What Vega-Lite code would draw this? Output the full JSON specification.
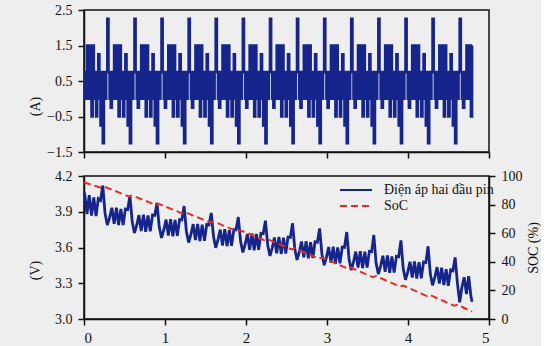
{
"$schema": "https://vega.github.io/schema/vega-lite/v6.json",
"padding": {"left": 27, "top": 2, "right": 0, "bottom": 0},
"background": "#eeeeee",
"spacing": 24,
"bounds": "flush",
"datasets": {
"cur": [
{"t":0,"a":0},
{"t":0.009,"a":0.75},{"t":0.023,"a":0},{"t":0.037,"a":1.5},{"t":0.051,"a":0},{"t":0.065,"a":0.75},{"t":0.079,"a":1.5},{"t":0.093,"a":-0.5},{"t":0.107,"a":1.5},{"t":0.121,"a":0},{"t":0.135,"a":0.75},{"t":0.149,"a":-0.5},{"t":0.163,"a":0.75},{"t":0.176,"a":1.25},{"t":0.190,"a":0},{"t":0.204,"a":-0.75},{"t":0.218,"a":0.75},{"t":0.232,"a":-1.25},{"t":0.246,"a":0.75},{"t":0.260,"a":0},{"t":0.274,"a":0.75},{"t":0.288,"a":2.25},{"t":0.302,"a":0.75},{"t":0.316,"a":0},{"t":0.330,"a":-0.25},
{"t":0.344,"a":0.75},{"t":0.358,"a":0},{"t":0.372,"a":1.5},{"t":0.386,"a":0},{"t":0.400,"a":0.75},{"t":0.414,"a":1.5},{"t":0.427,"a":-0.5},{"t":0.441,"a":1.5},{"t":0.455,"a":0},{"t":0.469,"a":0.75},{"t":0.483,"a":-0.5},{"t":0.497,"a":0.75},{"t":0.511,"a":1.25},{"t":0.525,"a":0},{"t":0.539,"a":-0.75},{"t":0.553,"a":0.75},{"t":0.567,"a":-1.25},{"t":0.581,"a":0.75},{"t":0.595,"a":0},{"t":0.609,"a":0.75},{"t":0.623,"a":2.25},{"t":0.637,"a":0.75},{"t":0.651,"a":0},{"t":0.664,"a":-0.25},
{"t":0.678,"a":0.75},{"t":0.692,"a":0},{"t":0.706,"a":1.5},{"t":0.720,"a":0},{"t":0.734,"a":0.75},{"t":0.748,"a":1.5},{"t":0.762,"a":-0.5},{"t":0.776,"a":1.5},{"t":0.790,"a":0},{"t":0.804,"a":0.75},{"t":0.818,"a":-0.5},{"t":0.832,"a":0.75},{"t":0.846,"a":1.25},{"t":0.860,"a":0},{"t":0.874,"a":-0.75},{"t":0.887,"a":0.75},{"t":0.901,"a":-1.25},{"t":0.915,"a":0.75},{"t":0.929,"a":0},{"t":0.943,"a":0.75},{"t":0.957,"a":2.25},{"t":0.971,"a":0.75},{"t":0.985,"a":0},{"t":0.999,"a":-0.25},
{"t":1.013,"a":0.75},{"t":1.027,"a":0},{"t":1.041,"a":1.5},{"t":1.055,"a":0},{"t":1.069,"a":0.75},{"t":1.083,"a":1.5},{"t":1.097,"a":-0.5},{"t":1.111,"a":1.5},{"t":1.124,"a":0},{"t":1.138,"a":0.75},{"t":1.152,"a":-0.5},{"t":1.166,"a":0.75},{"t":1.180,"a":1.25},{"t":1.194,"a":0},{"t":1.208,"a":-0.75},{"t":1.222,"a":0.75},{"t":1.236,"a":-1.25},{"t":1.250,"a":0.75},{"t":1.264,"a":0},{"t":1.278,"a":0.75},{"t":1.292,"a":2.25},{"t":1.306,"a":0.75},{"t":1.320,"a":0},{"t":1.334,"a":-0.25},
{"t":1.348,"a":0.75},{"t":1.362,"a":0},{"t":1.376,"a":1.5},{"t":1.389,"a":0},{"t":1.403,"a":0.75},{"t":1.417,"a":1.5},{"t":1.431,"a":-0.5},{"t":1.445,"a":1.5},{"t":1.459,"a":0},{"t":1.473,"a":0.75},{"t":1.487,"a":-0.5},{"t":1.501,"a":0.75},{"t":1.515,"a":1.25},{"t":1.529,"a":0},{"t":1.543,"a":-0.75},{"t":1.557,"a":0.75},{"t":1.571,"a":-1.25},{"t":1.585,"a":0.75},{"t":1.599,"a":0},{"t":1.612,"a":0.75},{"t":1.626,"a":2.25},{"t":1.640,"a":0.75},{"t":1.654,"a":0},{"t":1.668,"a":-0.25},
{"t":1.682,"a":0.75},{"t":1.696,"a":0},{"t":1.710,"a":1.5},{"t":1.724,"a":0},{"t":1.738,"a":0.75},{"t":1.752,"a":1.5},{"t":1.766,"a":-0.5},{"t":1.780,"a":1.5},{"t":1.794,"a":0},{"t":1.808,"a":0.75},{"t":1.822,"a":-0.5},{"t":1.836,"a":0.75},{"t":1.850,"a":1.25},{"t":1.863,"a":0},{"t":1.877,"a":-0.75},{"t":1.891,"a":0.75},{"t":1.905,"a":-1.25},{"t":1.919,"a":0.75},{"t":1.933,"a":0},{"t":1.947,"a":0.75},{"t":1.961,"a":2.25},{"t":1.975,"a":0.75},{"t":1.989,"a":0},{"t":2.003,"a":-0.25},
{"t":2.017,"a":0.75},{"t":2.031,"a":0},{"t":2.045,"a":1.5},{"t":2.059,"a":0},{"t":2.073,"a":0.75},{"t":2.087,"a":1.5},{"t":2.101,"a":-0.5},{"t":2.114,"a":1.5},{"t":2.128,"a":0},{"t":2.142,"a":0.75},{"t":2.156,"a":-0.5},{"t":2.170,"a":0.75},{"t":2.184,"a":1.25},{"t":2.198,"a":0},{"t":2.212,"a":-0.75},{"t":2.226,"a":0.75},{"t":2.240,"a":-1.25},{"t":2.254,"a":0.75},{"t":2.268,"a":0},{"t":2.282,"a":0.75},{"t":2.296,"a":2.25},{"t":2.310,"a":0.75},{"t":2.324,"a":0},{"t":2.338,"a":-0.25},
{"t":2.351,"a":0.75},{"t":2.365,"a":0},{"t":2.379,"a":1.5},{"t":2.393,"a":0},{"t":2.407,"a":0.75},{"t":2.421,"a":1.5},{"t":2.435,"a":-0.5},{"t":2.449,"a":1.5},{"t":2.463,"a":0},{"t":2.477,"a":0.75},{"t":2.491,"a":-0.5},{"t":2.505,"a":0.75},{"t":2.519,"a":1.25},{"t":2.533,"a":0},{"t":2.547,"a":-0.75},{"t":2.561,"a":0.75},{"t":2.575,"a":-1.25},{"t":2.588,"a":0.75},{"t":2.602,"a":0},{"t":2.616,"a":0.75},{"t":2.630,"a":2.25},{"t":2.644,"a":0.75},{"t":2.658,"a":0},{"t":2.672,"a":-0.25},
{"t":2.686,"a":0.75},{"t":2.700,"a":0},{"t":2.714,"a":1.5},{"t":2.728,"a":0},{"t":2.742,"a":0.75},{"t":2.756,"a":1.5},{"t":2.770,"a":-0.5},{"t":2.784,"a":1.5},{"t":2.798,"a":0},{"t":2.812,"a":0.75},{"t":2.825,"a":-0.5},{"t":2.839,"a":0.75},{"t":2.853,"a":1.25},{"t":2.867,"a":0},{"t":2.881,"a":-0.75},{"t":2.895,"a":0.75},{"t":2.909,"a":-1.25},{"t":2.923,"a":0.75},{"t":2.937,"a":0},{"t":2.951,"a":0.75},{"t":2.965,"a":2.25},{"t":2.979,"a":0.75},{"t":2.993,"a":0},{"t":3.007,"a":-0.25},
{"t":3.021,"a":0.75},{"t":3.035,"a":0},{"t":3.049,"a":1.5},{"t":3.063,"a":0},{"t":3.077,"a":0.75},{"t":3.090,"a":1.5},{"t":3.104,"a":-0.5},{"t":3.118,"a":1.5},{"t":3.132,"a":0},{"t":3.146,"a":0.75},{"t":3.160,"a":-0.5},{"t":3.174,"a":0.75},{"t":3.188,"a":1.25},{"t":3.202,"a":0},{"t":3.216,"a":-0.75},{"t":3.230,"a":0.75},{"t":3.244,"a":-1.25},{"t":3.258,"a":0.75},{"t":3.272,"a":0},{"t":3.286,"a":0.75},{"t":3.299,"a":2.25},{"t":3.314,"a":0.75},{"t":3.327,"a":0},{"t":3.341,"a":-0.25},
{"t":3.355,"a":0.75},{"t":3.369,"a":0},{"t":3.383,"a":1.5},{"t":3.397,"a":0},{"t":3.411,"a":0.75},{"t":3.425,"a":1.5},{"t":3.439,"a":-0.5},{"t":3.453,"a":1.5},{"t":3.467,"a":0},{"t":3.481,"a":0.75},{"t":3.495,"a":-0.5},{"t":3.509,"a":0.75},{"t":3.523,"a":1.25},{"t":3.536,"a":0},{"t":3.551,"a":-0.75},{"t":3.564,"a":0.75},{"t":3.578,"a":-1.25},{"t":3.592,"a":0.75},{"t":3.606,"a":0},{"t":3.620,"a":0.75},{"t":3.634,"a":2.25},{"t":3.648,"a":0.75},{"t":3.662,"a":0},{"t":3.676,"a":-0.25},
{"t":3.690,"a":0.75},{"t":3.704,"a":0},{"t":3.718,"a":1.5},{"t":3.732,"a":0},{"t":3.746,"a":0.75},{"t":3.760,"a":1.5},{"t":3.774,"a":-0.5},{"t":3.787,"a":1.5},{"t":3.801,"a":0},{"t":3.815,"a":0.75},{"t":3.829,"a":-0.5},{"t":3.843,"a":0.75},{"t":3.857,"a":1.25},{"t":3.871,"a":0},{"t":3.885,"a":-0.75},{"t":3.899,"a":0.75},{"t":3.913,"a":-1.25},{"t":3.927,"a":0.75},{"t":3.941,"a":0},{"t":3.955,"a":0.75},{"t":3.969,"a":2.25},{"t":3.983,"a":0.75},{"t":3.997,"a":0},{"t":4.011,"a":-0.25},
{"t":4.025,"a":0.75},{"t":4.038,"a":0},{"t":4.052,"a":1.5},{"t":4.066,"a":0},{"t":4.080,"a":0.75},{"t":4.094,"a":1.5},{"t":4.108,"a":-0.5},{"t":4.122,"a":1.5},{"t":4.136,"a":0},{"t":4.150,"a":0.75},{"t":4.164,"a":-0.5},{"t":4.178,"a":0.75},{"t":4.192,"a":1.25},{"t":4.206,"a":0},{"t":4.220,"a":-0.75},{"t":4.234,"a":0.75},{"t":4.248,"a":-1.25},{"t":4.262,"a":0.75},{"t":4.276,"a":0},{"t":4.289,"a":0.75},{"t":4.303,"a":2.25},{"t":4.317,"a":0.75},{"t":4.331,"a":0},{"t":4.345,"a":-0.25},
{"t":4.359,"a":0.75},{"t":4.373,"a":0},{"t":4.387,"a":1.5},{"t":4.401,"a":0},{"t":4.415,"a":0.75},{"t":4.429,"a":1.5},{"t":4.443,"a":-0.5},{"t":4.457,"a":1.5},{"t":4.471,"a":0},{"t":4.485,"a":0.75},{"t":4.498,"a":-0.5},{"t":4.513,"a":0.75},{"t":4.526,"a":1.25},{"t":4.540,"a":0},{"t":4.554,"a":-0.75},{"t":4.568,"a":0.75},{"t":4.582,"a":-1.25},{"t":4.596,"a":0.75},{"t":4.610,"a":0},{"t":4.624,"a":0.75},{"t":4.638,"a":2.25},{"t":4.652,"a":0.75},{"t":4.666,"a":0},{"t":4.680,"a":-0.25},
{"t":4.694,"a":0.75},{"t":4.708,"a":0},{"t":4.722,"a":1.5},{"t":4.735,"a":0},{"t":4.749,"a":0.75},{"t":4.763,"a":1.5},{"t":4.777,"a":-0.5},{"t":4.791,"a":1.5}
],
"volt": [
{"t":0,"v":4.06},
{"t":0.009,"v":4.05},{"t":0.037,"v":3.881},{"t":0.065,"v":4.04},{"t":0.093,"v":3.867},{"t":0.121,"v":4.02},{"t":0.149,"v":3.863},{"t":0.176,"v":4.01},{"t":0.204,"v":3.995},{"t":0.232,"v":4.12},{"t":0.260,"v":3.885},{"t":0.288,"v":3.788},{"t":0.316,"v":3.851},
{"t":0.344,"v":3.934},{"t":0.372,"v":3.799},{"t":0.400,"v":3.934},{"t":0.427,"v":3.788},{"t":0.455,"v":3.923},{"t":0.483,"v":3.788},{"t":0.511,"v":3.923},{"t":0.539,"v":3.918},{"t":0.567,"v":4.032},{"t":0.595,"v":3.817},{"t":0.623,"v":3.722},{"t":0.651,"v":3.787},
{"t":0.678,"v":3.872},{"t":0.706,"v":3.739},{"t":0.734,"v":3.876},{"t":0.762,"v":3.732},{"t":0.790,"v":3.869},{"t":0.818,"v":3.736},{"t":0.846,"v":3.873},{"t":0.874,"v":3.870},{"t":0.901,"v":3.975},{"t":0.929,"v":3.773},{"t":0.957,"v":3.680},{"t":0.985,"v":3.747},
{"t":1.013,"v":3.834},{"t":1.041,"v":3.701},{"t":1.069,"v":3.838},{"t":1.097,"v":3.694},{"t":1.124,"v":3.831},{"t":1.152,"v":3.698},{"t":1.180,"v":3.835},{"t":1.208,"v":3.832},{"t":1.236,"v":3.948},{"t":1.264,"v":3.735},{"t":1.292,"v":3.642},{"t":1.320,"v":3.709},
{"t":1.348,"v":3.796},{"t":1.376,"v":3.662},{"t":1.403,"v":3.798},{"t":1.431,"v":3.655},{"t":1.459,"v":3.791},{"t":1.487,"v":3.657},{"t":1.515,"v":3.793},{"t":1.543,"v":3.789},{"t":1.571,"v":3.890},{"t":1.599,"v":3.692},{"t":1.626,"v":3.598},{"t":1.654,"v":3.664},
{"t":1.682,"v":3.750},{"t":1.710,"v":3.617},{"t":1.738,"v":3.754},{"t":1.766,"v":3.611},{"t":1.794,"v":3.748},{"t":1.822,"v":3.615},{"t":1.850,"v":3.751},{"t":1.877,"v":3.748},{"t":1.905,"v":3.855},{"t":1.933,"v":3.652},{"t":1.961,"v":3.559},{"t":1.989,"v":3.626},
{"t":2.017,"v":3.713},{"t":2.045,"v":3.581},{"t":2.073,"v":3.718},{"t":2.101,"v":3.576},{"t":2.128,"v":3.713},{"t":2.156,"v":3.581},{"t":2.184,"v":3.719},{"t":2.212,"v":3.716},{"t":2.240,"v":3.825},{"t":2.268,"v":3.621},{"t":2.296,"v":3.529},{"t":2.324,"v":3.597},
{"t":2.351,"v":3.684},{"t":2.379,"v":3.551},{"t":2.407,"v":3.688},{"t":2.435,"v":3.546},{"t":2.463,"v":3.683},{"t":2.491,"v":3.550},{"t":2.519,"v":3.687},{"t":2.547,"v":3.684},{"t":2.575,"v":3.802},{"t":2.602,"v":3.589},{"t":2.630,"v":3.496},{"t":2.658,"v":3.563},
{"t":2.686,"v":3.651},{"t":2.714,"v":3.517},{"t":2.742,"v":3.653},{"t":2.770,"v":3.509},{"t":2.798,"v":3.645},{"t":2.825,"v":3.512},{"t":2.853,"v":3.648},{"t":2.881,"v":3.644},{"t":2.909,"v":3.760},{"t":2.937,"v":3.546},{"t":2.965,"v":3.452},{"t":2.993,"v":3.518},
{"t":3.021,"v":3.604},{"t":3.049,"v":3.471},{"t":3.077,"v":3.607},{"t":3.104,"v":3.464},{"t":3.132,"v":3.601},{"t":3.160,"v":3.468},{"t":3.188,"v":3.604},{"t":3.216,"v":3.601},{"t":3.244,"v":3.730},{"t":3.272,"v":3.504},{"t":3.299,"v":3.411},{"t":3.327,"v":3.478},
{"t":3.355,"v":3.565},{"t":3.383,"v":3.432},{"t":3.411,"v":3.569},{"t":3.439,"v":3.427},{"t":3.467,"v":3.564},{"t":3.495,"v":3.431},{"t":3.523,"v":3.568},{"t":3.551,"v":3.565},{"t":3.578,"v":3.705},{"t":3.606,"v":3.470},{"t":3.634,"v":3.377},{"t":3.662,"v":3.444},
{"t":3.690,"v":3.531},{"t":3.718,"v":3.397},{"t":3.746,"v":3.533},{"t":3.774,"v":3.388},{"t":3.801,"v":3.524},{"t":3.829,"v":3.390},{"t":3.857,"v":3.526},{"t":3.885,"v":3.522},{"t":3.913,"v":3.660},{"t":3.941,"v":3.423},{"t":3.969,"v":3.329},{"t":3.997,"v":3.395},
{"t":4.025,"v":3.481},{"t":4.052,"v":3.347},{"t":4.080,"v":3.483},{"t":4.108,"v":3.340},{"t":4.136,"v":3.476},{"t":4.164,"v":3.342},{"t":4.192,"v":3.478},{"t":4.220,"v":3.474},{"t":4.248,"v":3.610},{"t":4.276,"v":3.377},{"t":4.303,"v":3.283},{"t":4.331,"v":3.349},
{"t":4.359,"v":3.435},{"t":4.387,"v":3.298},{"t":4.415,"v":3.431},{"t":4.443,"v":3.284},{"t":4.471,"v":3.417},{"t":4.498,"v":3.279},{"t":4.526,"v":3.412},{"t":4.554,"v":3.405},{"t":4.582,"v":3.518},{"t":4.610,"v":3.301},{"t":4.638,"v":3.140},{"t":4.666,"v":3.267},
{"t":4.694,"v":3.35},{"t":4.722,"v":3.21},{"t":4.749,"v":3.36},{"t":4.777,"v":3.19},{"t":4.791,"v":3.145}
],
"soc": [
{"t":0,"s":95.5},{"t":0.219,"s":91.65},{"t":0.259,"s":92.35},{"t":0.554,"s":85.71},{"t":0.594,"s":86.41},{"t":0.888,"s":79.72},{"t":0.928,"s":80.42},{"t":1.223,"s":73.65},{"t":1.263,"s":74.35},{"t":1.558,"s":67.51},{"t":1.598,"s":68.21},{"t":1.892,"s":61.32},{"t":1.932,"s":62.02},{"t":2.227,"s":55.04},{"t":2.267,"s":55.74},{"t":2.562,"s":48.70},{"t":2.602,"s":49.40},{"t":2.896,"s":42.30},{"t":2.936,"s":43.0},{"t":3.231,"s":35.83},{"t":3.271,"s":36.53},{"t":3.565,"s":29.30},{"t":3.605,"s":30.0},{"t":3.900,"s":22.69},{"t":3.940,"s":23.39},{"t":4.235,"s":16.01},{"t":4.275,"s":16.71},{"t":4.569,"s":9.28},{"t":4.609,"s":9.98},{"t":4.79,"s":5.2}
]
},
"vconcat": [
{
"width": 405, "height": 142,
"data": {"name": "cur"},
"mark": {"type": "line", "interpolate": "step-after", "color": "#15258c", "strokeWidth": 2.6},
"encoding": {
"x": {"field": "t", "type": "quantitative", "scale": {"domain": [0, 5], "nice": false}, "axis": {"values": [0, 1, 2, 3, 4, 5], "labels": false, "title": null}},
"y": {"field": "a", "type": "quantitative", "scale": {"domain": [-1.5, 2.5], "nice": false}, "axis": {"values": [-1.5, -0.5, 0.5, 1.5, 2.5], "format": ".1f", "title": "(A)", "titleX": -49, "titleY": 96, "titleAngle": -90, "titleBaseline": "middle", "titleAlign": "center"}}
}
},
{
"width": 405, "height": 143,
"layer": [
{
"data": {"name": "volt"},
"mark": {"type": "line", "strokeWidth": 2.8},
"encoding": {
"x": {"field": "t", "type": "quantitative", "scale": {"domain": [0, 5], "nice": false}, "axis": {"values": [0, 1, 2, 3, 4, 5], "format": "d", "title": null, "labelPadding": 5, "labelFontSize": 15}},
"y": {"field": "v", "type": "quantitative", "scale": {"domain": [3.0, 4.2], "nice": false, "zero": false}, "axis": {"values": [3.0, 3.3, 3.6, 3.9, 4.2], "format": ".1f", "title": "(V)", "titleX": -49, "titleY": 94, "titleAngle": -90, "titleBaseline": "middle", "titleAlign": "center"}},
"color": {"datum": "Điện áp hai đầu pin", "scale": {"domain": ["Điện áp hai đầu pin", "SoC"], "range": ["#15258c", "#e0302a"]}, "legend": {"title": null, "orient": "none", "legendX": 265, "legendY": 173}},
"strokeDash": {"datum": "Điện áp hai đầu pin", "scale": {"domain": ["Điện áp hai đầu pin", "SoC"], "range": [[1, 0], [7, 4]]}, "legend": {"title": null, "orient": "none", "legendX": 265, "legendY": 173}}
}
},
{
"data": {"name": "soc"},
"mark": {"type": "line", "strokeWidth": 2},
"encoding": {
"x": {"field": "t", "type": "quantitative"},
"y": {"field": "s", "type": "quantitative", "scale": {"domain": [0, 100], "nice": false}, "axis": {"orient": "right", "values": [0, 20, 40, 60, 80, 100], "title": "SOC (%)", "titleX": 44, "titleAngle": -90, "titleBaseline": "middle", "titleAlign": "center", "labelPadding": 6}},
"color": {"datum": "SoC"},
"strokeDash": {"datum": "SoC"}
}
}
],
"resolve": {"scale": {"y": "independent"}}
}
],
"config": {
"view": {"stroke": "#111", "strokeWidth": 1.5},
"axis": {"labelFont": "Liberation Serif", "labelFontSize": 14, "labelColor": "#111", "titleFont": "Liberation Serif", "titleFontSize": 14, "titleFontWeight": "normal", "titleColor": "#111", "domainColor": "#111", "domainWidth": 1.5, "tickColor": "#111", "tickWidth": 1.5, "tickSize": 6, "grid": false, "labelPadding": 6},
"legend": {"symbolType": "M-4,0H4", "symbolSize": 64, "symbolStrokeWidth": 2, "labelFont": "Liberation Serif", "labelFontSize": 14, "labelColor": "#111", "labelOffset": 21, "rowPadding": 2, "padding": 0}
}
}
